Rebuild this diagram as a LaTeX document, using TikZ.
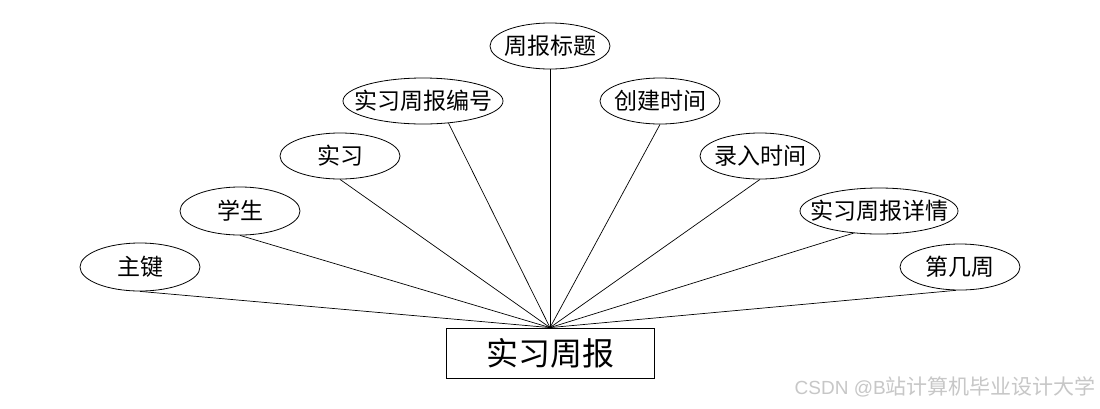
\documentclass[tikz,border=0pt]{standalone}
\usepackage{fontspec}
\newfontfamily\cjk{Noto Sans CJK SC}
\newfontfamily\lat{Liberation Sans}
\usetikzlibrary{shapes.geometric}
\begin{document}
\begin{tikzpicture}[x=1pt,y=-1pt,
  attr/.style={ellipse,draw,line width=0.8pt,inner sep=0pt,minimum width=120pt,minimum height=46pt,
    label={[font=\cjk\fontsize{23}{26}\selectfont,inner sep=0pt]center:#1}},
  ent/.style={rectangle,draw,line width=0.8pt,inner sep=0pt,minimum width=208pt,minimum height=50pt,font=\cjk\fontsize{32}{36}\selectfont},
  link/.style={line width=0.7pt}]
\useasboundingbox[fill=white] (0,0) rectangle (1100,408);
\node[ent] (e) at (550,353) {实习周报};
\node[attr=主键,minimum height=48pt] (a1) at (140,267) {};
\node[attr=学生,minimum height=48pt] (a2) at (240,211) {};
\node[attr=实习] (a3) at (340,156) {};
\node[attr=实习周报编号,minimum width=160pt] (a4) at (423,101) {};
\node[attr=周报标题] (a5) at (550,46) {};
\node[attr=创建时间] (a6) at (660,101) {};
\node[attr=录入时间] (a7) at (760,156) {};
\node[attr=实习周报详情,minimum width=158pt] (a8) at (879,211) {};
\node[attr=第几周] (a9) at (960,267) {};
\draw[link] (a1.south) -- (e.north);
\draw[link] (a2.south) -- (e.north);
\draw[link] (a3.south) -- (e.north);
\draw[link] (a4.-41) -- (e.north);
\draw[link] (a5.south) -- (e.north);
\draw[link] (a6.south) -- (e.north);
\draw[link] (a7.south) -- (e.north);
\draw[link] (a8.-139) -- (e.north);
\draw[link] (a9.-100) -- (e.north);
\node[anchor=east,text=black!22,inner sep=0pt] (wm) at (1096,387) {\lat\fontsize{19}{22}\selectfont CSDN @B\cjk\fontsize{21}{24}\selectfont 站计算机毕业设计大学};
\end{tikzpicture}
\end{document}
